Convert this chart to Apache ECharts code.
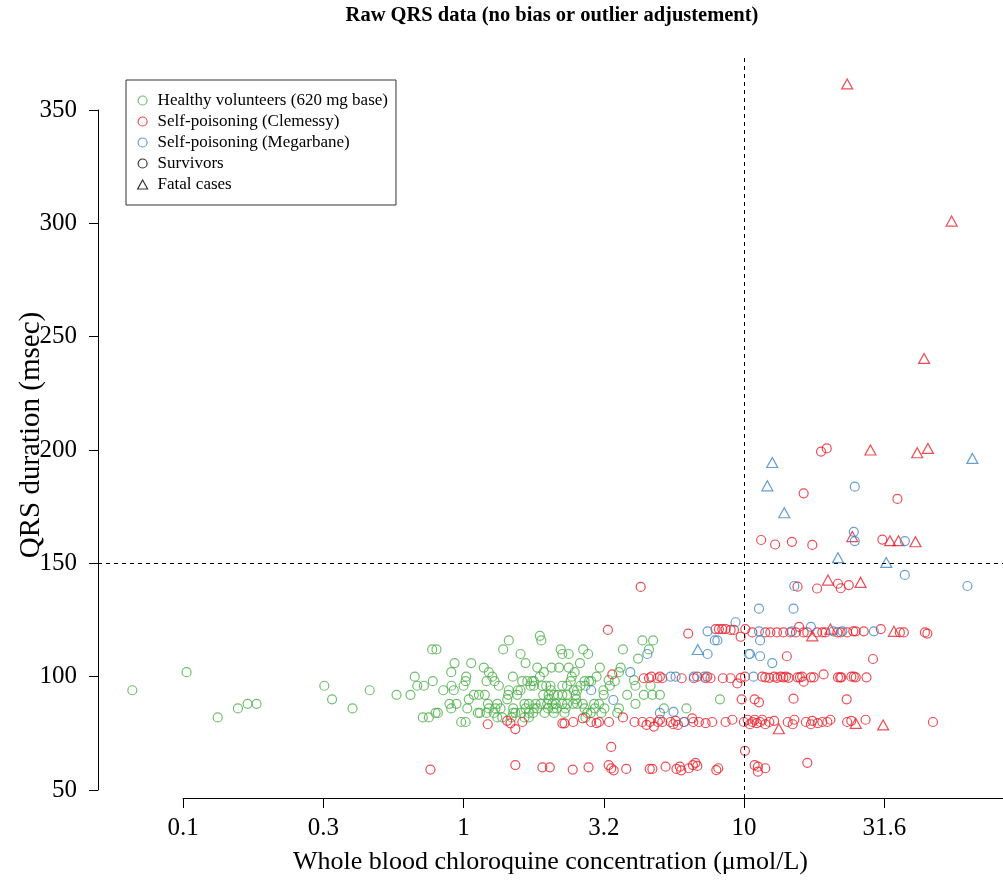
<!DOCTYPE html>
<html><head><meta charset="utf-8">
<script src="https://cdn.jsdelivr.net/npm/echarts@6/dist/echarts.min.js"></script>
<style>html,body{margin:0;padding:0;background:#fff}#c{width:1003px;height:880px}</style>
</head><body><div id="c"></div><script>
// ---- data (concentration µmol/L, QRS msec) ----
const healthy = [[0.066,94],[0.103,102],[0.133,82],[0.157,86],[0.170,88],[0.183,88],[0.319,96],[0.340,90],[0.402,86],[0.463,94],[0.577,92],
[0.647,92],[0.670,100],[0.684,96],[0.722,96],[0.777,98],[0.773,112],[0.801,112],[0.716,82],[0.752,82],[0.795,84],[0.810,84],[0.847,94],[0.906,96],[0.929,106],[0.904,102],[0.923,94],[0.891,88],[0.944,88],[0.904,86],[0.981,80],[1.017,80],[1.022,100],[1.017,98],[1.00,96],[1.065,106],[1.044,90],[1.031,86],[1.088,92],[1.134,92],[1.125,84],[1.143,84],[1.181,104],[1.191,92],[1.231,102],[1.208,98],[1.266,100],[1.290,98],[1.336,96],[1.319,88],[1.221,88],[1.231,86],[1.300,86],[1.355,86],[1.282,84],[1.319,82],[1.374,82],[1.208,84],[1.385,112],[1.450,116],[1.499,100],[1.450,94],[1.443,92],[1.431,90],[1.503,86],[1.503,84],[1.53,84],[1.60,84],[1.483,82],[1.561,94],[1.596,94],[1.553,92],[1.618,98],[1.687,98],[1.596,110],[1.664,106],[1.649,88],[1.709,88],[1.664,86],[1.781,86],[1.709,84],[1.772,84],[1.649,82],[1.709,82],[1.733,96],[1.781,96],[1.757,98],[1.781,98],[1.831,104],[1.871,118],[1.893,116],[1.806,88],[1.885,88],[1.831,86],[1.923,92],[1.944,84],[1.907,96],[1.933,102],[1.871,100],[1.971,96],[2.04,96],[2.01,92],[2.10,92],[1.987,88],[2.07,88],[2.13,88],[2.00,86],[2.09,86],[2.15,86],[2.01,90],[2.05,94],[2.06,104],[2.19,104],[2.22,112],[2.25,110],[2.37,110],[2.10,84],[2.17,92],[2.25,92],[2.34,92],[2.25,88],[2.34,88],[2.29,84],[2.25,96],[2.34,96],[2.41,98],[2.43,100],[2.31,86],[2.37,104],[2.49,102],[2.47,94],[2.51,92],[2.54,94],[2.46,88],[2.54,88],[2.52,90],[2.60,106],[2.67,112],[2.66,88],[2.70,86],[2.78,110],[2.70,98],[2.80,98],[2.85,98],[2.61,96],[2.72,96],[2.76,84],[2.84,84],[2.72,82],[2.94,86],[2.92,88],[3.06,104],[2.98,100],[3.04,88],[3.15,94],[3.16,92],[3.18,86],[3.10,84],[3.32,96],[3.46,98],[3.58,102],[3.63,104],[3.53,84],[3.58,86],[3.83,92],[3.70,112],
[4.34,116],[4.74,116],[4.58,112],[4.19,108],[3.29,98.5],[4.05,98.5],[4.10,96],[4.64,96],[4.39,92],[4.71,92],[5.01,92],[4.10,88],[5.18,86],[6.23,86],[8.20,90]];

const clemessySurvivors = [
[0.762,59],[1.53,61],[1.91,60],[2.03,60],[2.45,59],[2.79,60],[3.29,61],[3.36,59.5],[3.43,58.7],[3.80,59.3],[4.61,59.3],[4.71,59.3],[5.25,60.3],[5.74,59.3],[5.90,60.3],[5.97,58.7],[6.35,59.6],[6.57,61],[6.71,62],[6.81,60.6],[7.96,58.8],[8.09,59.6],[3.36,69],[10.07,67.3],[10.9,61],[11.2,60.3],[11.2,58.1],[11.9,59.6],[16.8,62],
[1.22,79],[1.43,80.5],[1.47,79.4],[1.53,76.9],[1.62,80],[2.25,79.4],[2.29,79.4],[2.46,80],[2.66,81.6],[2.85,80],[2.98,79.5],[3.04,80],[3.30,80],[3.70,82],[4.07,80],[4.34,80],[4.49,78.7],[4.62,80],[4.77,78],[4.93,80],[5.01,81],[5.11,80],[5.47,80],[5.59,79],[5.70,80.5],[5.81,78.7],[6.10,80],[6.53,81.6],[6.59,80],[6.90,80],[7.29,79.5],[7.70,80],[8.59,80],[9.08,81],[9.98,80],[10.3,81],[10.5,79],[10.7,80],[10.9,81],[11.1,79.5],[11.4,80],[11.6,81],[11.9,79],[12.3,80],[12.8,80.5],[14.3,80],[14.9,79],[15.1,81],[16.6,80],[17.3,79],[17.5,80.5],[18.3,79.5],[19.0,80],[19.8,80],[20.3,81],[23.3,80],[24.1,80.5],[27.1,81],[47.1,80],
[3.39,101],[4.39,99.3],[4.58,99.3],[4.67,100],[4.91,99.3],[5.01,100],[5.11,99.3],[5.99,99.3],[6.62,99.3],[6.81,100],[7.29,99.3],[7.39,100],[7.59,99.3],[8.40,99.3],[8.95,99.3],[9.46,97],[9.72,99.5],[10.07,100],[11.6,100],[11.9,99.7],[12.3,99.5],[12.8,100],[13.1,99.5],[13.5,100],[13.8,99.7],[14.1,100],[14.4,99.5],[15.5,99.7],[15.8,99.7],[16.1,100],[16.3,97.8],[17.3,99.7],[17.7,99.7],[19.2,101],[21.6,99.7],[22.0,99.7],[22.2,99.7],[24.1,100],[24.6,100],[25.0,99.7],[27.3,99.7],
[14.2,109],[28.8,107.8],[10.9,90],[11.3,88.7],[15.0,90.3],[23.2,90],[9.8,90],
[3.27,120.6],[6.32,119],[7.91,121],[8.13,121],[8.36,121],[8.59,121],[8.95,120.6],[9.20,120.6],[9.72,117.6],[10.1,121],[10.7,119.5],[11.9,119.5],[12.4,119.5],[13.1,119.5],[13.8,119.5],[14.6,119.5],[15.3,119.5],[15.7,122],[16.3,119.5],[16.8,119.5],[18.2,119.5],[19.0,119.5],[19.5,119.5],[21.5,119.5],[22.1,119.5],[23.3,119.5],[24.5,120],[25.0,120],[26.7,120],[30.7,121],[35.9,119.5],[37.1,119.5],[44.1,119.5],[45.0,119],
[18.8,199.3],[19.7,200.7],[16.3,180.9],[35.2,178.4],[11.5,160.3],[12.9,158.3],[14.8,159.5],[17.5,158.1],[31.1,160.5],[15.5,139.7],[18.2,138.9],[21.6,141],[22.1,139],[23.6,140.4],[4.28,139.6]];

const clemessyFatal = [[23.3,361.5],[54.9,301],[43.8,240.4],[28.2,200],[41.4,198.8],[45.2,200.7],[24.3,161.8],[33.1,160],[35.5,160],[40.8,159.5],[19.9,142.6],[26.0,141.6],[17.5,118],[20.3,121],[34.2,120],[13.3,77],[25.0,79.4],[31.3,78.7]];

const megarbaneSurvivors = [[2.85,94],[3.42,89.7],[3.93,102],[9.32,124],[7.41,120],[7.86,116],[8.03,116],[7.41,110],[4.52,110],[10.4,110],[5.47,100],[5.70,100],[6.62,100],[7.22,100],[5.01,84],[5.6,84.5],[6.13,80],[11.3,130],[15.0,130],[11.4,116],[10.5,110],[11.4,109],[12.6,106],[10.8,100],[11.3,120],[14.8,120],[17.3,122],[20.8,120],[22.4,120],[29.0,120],[24.8,183.8],[24.6,163.9],[24.8,159.8],[37.4,159.8],[37.4,144.9],[15.1,140],[62.5,140]];

const megarbaneFatal = [[12.6,194.5],[12.1,184.2],[13.9,172.3],[21.6,152.5],[32.1,150.4],[65.1,196.3],[6.84,112]];

const xTickValues = [0.1,0.3162,1,3.162,10,31.62];
const xTickLabels = ['0.1','0.3','1','3.2','10','31.6'];
const yMin = 50, yMax = 350, yStep = 50;
const refConc = 10, refQrs = 150;
const legendNames = ['Healthy volunteers (620 mg base)','Self-poisoning (Clemessy)','Self-poisoning (Megarbane)','Survivors','Fatal cases'];

// ---- styles ----
const FONT = 'Liberation Serif';
const GREEN = '#4DAF4A', RED = '#E8202A', BLUE = '#3F86C4';
const CIRC = 9, TRI = [11,10];
const TRI_ICON = 'path://M5,0 L10,9 L0,9 Z';
function hollow(c){ return {color:'rgba(0,0,0,0)', borderColor:c, borderWidth:1.2}; }
function fmtX(v){
  let best=0, bd=Infinity;
  xTickValues.forEach((t,i)=>{const d=Math.abs(Math.log(v)-Math.log(t)); if(d<bd){bd=d;best=i;}});
  return xTickLabels[best];
}

const chart = echarts.init(document.getElementById('c'), null, {renderer:'canvas'});
chart.setOption({
  animation:false,
  backgroundColor:'#fff',
  title:{text:'Raw QRS data (no bias or outlier adjustement)', left:552, textAlign:'center', top:0, padding:[5,0,0,0],
    textStyle:{fontFamily:FONT, fontWeight:'bold', fontSize:20.5, color:'#000'}},
  legend:{
    orient:'vertical', left:126, top:80, padding:[12,8,12,11],
    itemWidth:20, itemHeight:9, itemGap:4, selectedMode:false, symbolKeepAspect:true,
    borderColor:'#333', borderWidth:1, backgroundColor:'#fff',
    textStyle:{fontFamily:FONT, fontSize:17, color:'#000', lineHeight:17},
    data:[
      {name:legendNames[0], icon:'circle', itemStyle:hollow(GREEN)},
      {name:legendNames[1], icon:'circle', itemStyle:hollow(RED)},
      {name:legendNames[2], icon:'circle', itemStyle:hollow(BLUE)},
      {name:legendNames[3], icon:'circle', itemStyle:hollow('#000')},
      {name:legendNames[4], icon:TRI_ICON, itemStyle:hollow('#000')}
    ]
  },
  grid:[
    {left:98, right:0, top:58, bottom:82},
    {left:183, right:0, top:58, bottom:82},
    {left:98, right:0, top:110, bottom:90}
  ],
  xAxis:[
    {gridIndex:0, type:'log', logBase:10, min:0.0498, max:83.7,
     axisLine:{show:false}, axisTick:{show:false}, axisLabel:{show:false}, splitLine:{show:false},
     name:'Whole blood chloroquine concentration (μmol/L)', nameLocation:'middle', nameGap:51,
     nameTextStyle:{fontFamily:FONT, fontSize:26, color:'#000'}},
    {gridIndex:1, type:'log', logBase:10, min:0.1, max:83.7,
     axisLine:{show:true, lineStyle:{color:'#000', width:1}},
     axisTick:{show:true, length:10, customValues:xTickValues, lineStyle:{color:'#000', width:1}},
     axisLabel:{show:true, customValues:xTickValues, formatter:fmtX, fontFamily:FONT, fontSize:25, color:'#000', margin:18},
     splitLine:{show:false}},
    {gridIndex:2, type:'value', show:false, min:0, max:1}
  ],
  yAxis:[
    {gridIndex:0, type:'value', min:46.47, max:372.94,
     axisLine:{show:false}, axisTick:{show:false}, axisLabel:{show:false}, splitLine:{show:false},
     name:'QRS duration (msec)', nameLocation:'middle', nameGap:52, nameRotate:90,
     nameTextStyle:{fontFamily:FONT, fontSize:29, color:'#000', padding:[0,14,0,0]}},
    {gridIndex:1, type:'value', show:false, min:0, max:1},
    {gridIndex:2, type:'value', min:yMin, max:yMax, interval:yStep,
     axisLine:{show:true, lineStyle:{color:'#000', width:1}},
     axisTick:{show:true, length:9, lineStyle:{color:'#000', width:1}},
     axisLabel:{fontFamily:FONT, fontSize:25, color:'#000', margin:21},
     splitLine:{show:false}}
  ],
  series:[
    {name:legendNames[0], type:'scatter', xAxisIndex:0, yAxisIndex:0, data:healthy,
     symbol:'circle', symbolSize:CIRC, itemStyle:hollow(GREEN),
     markLine:{silent:true, symbol:['none','none'], label:{show:false},
       lineStyle:{type:[4,4], color:'#000', width:1},
       data:[{xAxis:refConc},{yAxis:refQrs}]}},
    {name:legendNames[1], type:'scatter', xAxisIndex:0, yAxisIndex:0, data:clemessySurvivors,
     symbol:'circle', symbolSize:CIRC, itemStyle:hollow(RED)},
    {name:'Clemessy fatal', type:'scatter', xAxisIndex:0, yAxisIndex:0, data:clemessyFatal,
     symbol:'triangle', symbolSize:TRI, itemStyle:hollow(RED)},
    {name:legendNames[2], type:'scatter', xAxisIndex:0, yAxisIndex:0, data:megarbaneSurvivors,
     symbol:'circle', symbolSize:CIRC, itemStyle:hollow(BLUE)},
    {name:'Megarbane fatal', type:'scatter', xAxisIndex:0, yAxisIndex:0, data:megarbaneFatal,
     symbol:'triangle', symbolSize:TRI, itemStyle:hollow(BLUE)},
    {name:legendNames[3], type:'scatter', xAxisIndex:0, yAxisIndex:0, data:[],
     symbol:'circle', symbolSize:CIRC, itemStyle:hollow('#000')},
    {name:legendNames[4], type:'scatter', xAxisIndex:0, yAxisIndex:0, data:[],
     symbol:'triangle', symbolSize:TRI, itemStyle:hollow('#000')}
  ]
});
</script></body></html>
